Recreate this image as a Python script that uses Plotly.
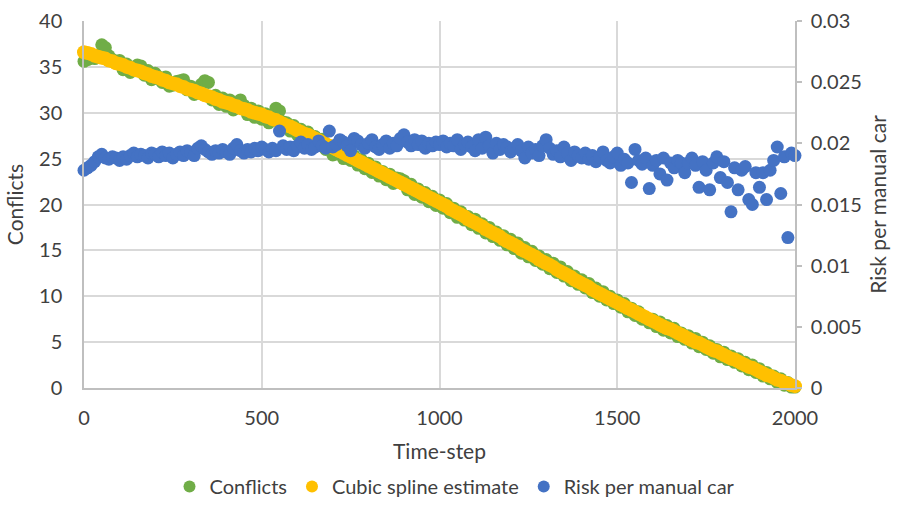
import plotly.graph_objects as go

time_step = list(range(0, 2001, 10))

conflicts = [
    35.6, 35.8, 36.0, 35.9, 36.3, 37.4, 37.1, 36.2, 35.8, 35.6,
    35.7, 34.7, 35.3, 34.4, 34.9, 35.2, 35.1, 34.1, 34.6, 33.6,
    34.3, 33.9, 33.3, 33.9, 32.9, 33.0, 33.4, 33.5, 33.6, 32.5,
    32.9, 32.0, 32.6, 33.1, 33.5, 33.3, 31.4, 31.9, 30.9, 31.6,
    30.7, 31.4, 30.3, 31.0, 31.4, 30.8, 29.8, 30.5, 29.5, 30.2,
    29.3, 29.9, 28.9, 29.7, 30.5, 30.2, 29.0, 28.9, 28.0, 28.6,
    27.6, 28.2, 27.5, 27.9, 26.9, 27.4, 26.5, 27.1, 26.0, 26.4,
    25.4, 25.5, 25.7, 25.0, 25.7, 24.8, 25.3, 24.3, 24.9, 23.9,
    24.5, 23.5, 24.1, 23.1, 23.6, 22.7, 23.3, 22.3, 22.9, 22.8,
    22.6, 21.6, 22.2, 21.1, 21.7, 20.8, 21.3, 20.3, 20.9, 19.9,
    20.5, 19.6, 20.1, 19.1, 19.6, 18.6, 19.2, 18.3, 18.7, 17.8,
    18.4, 17.4, 17.9, 16.9, 17.5, 16.5, 17.0, 16.1, 16.6, 15.6,
    16.2, 15.2, 15.8, 14.7, 15.3, 14.3, 14.9, 13.9, 14.4, 13.5,
    14.0, 13.0, 13.6, 12.6, 13.2, 12.2, 12.7, 11.7, 12.2, 11.3,
    11.8, 10.9, 11.4, 10.4, 10.9, 10.0, 10.5, 9.6, 10.0, 9.2,
    9.6, 8.8, 9.2, 8.3, 8.7, 7.9, 8.3, 7.5, 7.6, 7.1,
    7.5, 6.7, 7.2, 6.3, 6.8, 6.0, 6.5, 5.6, 6.0, 5.3,
    5.7, 4.9, 5.4, 4.5, 5.0, 4.2, 4.6, 3.8, 4.2, 3.4,
    3.9, 3.1, 3.5, 2.8, 3.2, 2.4, 2.8, 2.0, 2.5, 1.7,
    2.1, 1.3, 1.7, 1.0, 1.3, 0.6, 1.0, 0.3, 0.6, 0.1,
    0.1,
]

spline_estimate = [
    36.6, 36.5, 36.4, 36.2, 36.1, 36.0, 35.9, 35.7, 35.6, 35.4,
    35.3, 35.2, 35.0, 34.9, 34.7, 34.6, 34.5, 34.3, 34.2, 34.0,
    33.9, 33.8, 33.6, 33.5, 33.3, 33.2, 33.1, 32.9, 32.8, 32.6,
    32.5, 32.4, 32.2, 32.1, 31.9, 31.8, 31.7, 31.5, 31.4, 31.2,
    31.1, 31.0, 30.8, 30.7, 30.5, 30.4, 30.3, 30.1, 30.0, 29.9,
    29.8, 29.6, 29.5, 29.3, 29.2, 29.0, 28.8, 28.6, 28.5, 28.3,
    28.1, 27.9, 27.7, 27.6, 27.4, 27.2, 27.0, 26.8, 26.6, 26.4,
    26.2, 26.0, 25.8, 25.6, 25.4, 25.2, 25.0, 24.8, 24.6, 24.4,
    24.2, 24.0, 23.8, 23.6, 23.4, 23.2, 23.0, 22.8, 22.6, 22.4,
    22.2, 22.0, 21.8, 21.6, 21.4, 21.2, 21.0, 20.8, 20.6, 20.4,
    20.2, 20.0, 19.8, 19.5, 19.3, 19.1, 18.9, 18.7, 18.4, 18.2,
    18.0, 17.8, 17.6, 17.3, 17.1, 16.9, 16.7, 16.5, 16.2, 16.0,
    15.8, 15.6, 15.4, 15.1, 14.9, 14.7, 14.5, 14.3, 14.0, 13.8,
    13.6, 13.4, 13.2, 12.9, 12.7, 12.5, 12.3, 12.1, 11.8, 11.6,
    11.4, 11.2, 11.0, 10.7, 10.5, 10.3, 10.1, 9.9, 9.7, 9.5,
    9.3, 9.1, 8.9, 8.7, 8.5, 8.3, 8.1, 7.9, 7.7, 7.5,
    7.3, 7.1, 6.9, 6.7, 6.5, 6.4, 6.2, 6.0, 5.8, 5.6,
    5.4, 5.2, 5.0, 4.9, 4.7, 4.5, 4.3, 4.1, 4.0, 3.8,
    3.6, 3.4, 3.2, 3.1, 2.9, 2.7, 2.5, 2.3, 2.2, 2.0,
    1.8, 1.6, 1.4, 1.3, 1.1, 0.9, 0.8, 0.6, 0.5, 0.3,
    0.2,
]

risk_per_manual_car = [
    0.0178, 0.0180, 0.0182, 0.0185, 0.0189, 0.0191, 0.0188, 0.0187, 0.0189, 0.0188,
    0.0186, 0.0189, 0.0187, 0.0190, 0.0192, 0.0189, 0.0191, 0.0190, 0.0188, 0.0192,
    0.0191, 0.0189, 0.0193, 0.0190, 0.0192, 0.0188, 0.0191, 0.0193, 0.0190, 0.0194,
    0.0192, 0.0190, 0.0196, 0.0198, 0.0195, 0.0193, 0.0191, 0.0194, 0.0192, 0.0195,
    0.0193, 0.0191, 0.0196, 0.0199, 0.0194, 0.0192, 0.0195, 0.0193, 0.0196, 0.0194,
    0.0197, 0.0195, 0.0193, 0.0196, 0.0194, 0.0210, 0.0198, 0.0195, 0.0197, 0.0194,
    0.0198, 0.0201, 0.0196, 0.0199, 0.0195, 0.0197, 0.0202, 0.0198, 0.0196, 0.0210,
    0.0197, 0.0199, 0.0203, 0.0201, 0.0198, 0.0194, 0.0204, 0.0202, 0.0199, 0.0196,
    0.0200, 0.0203, 0.0197, 0.0195, 0.0199, 0.0202, 0.0196, 0.0200, 0.0198, 0.0204,
    0.0207, 0.0201, 0.0198, 0.0203, 0.0199, 0.0202, 0.0196, 0.0200, 0.0198, 0.0201,
    0.0199, 0.0202, 0.0197, 0.0200, 0.0198, 0.0203, 0.0195, 0.0199, 0.0201, 0.0197,
    0.0194, 0.0203, 0.0196, 0.0205, 0.0198, 0.0192, 0.0200, 0.0195, 0.0199, 0.0197,
    0.0193, 0.0196, 0.0199, 0.0194, 0.0188, 0.0197, 0.0192, 0.0195, 0.0190, 0.0198,
    0.0203, 0.0196, 0.0191, 0.0194, 0.0189, 0.0197, 0.0192, 0.0186, 0.0193, 0.0190,
    0.0188, 0.0192, 0.0187, 0.0190, 0.0185, 0.0189, 0.0193, 0.0186, 0.0184, 0.0189,
    0.0192, 0.0182, 0.0187, 0.0184, 0.0168, 0.0195, 0.0186, 0.0183, 0.0188, 0.0163,
    0.0182, 0.0186, 0.0175, 0.0188, 0.0170, 0.0184, 0.0180, 0.0186, 0.0184, 0.0176,
    0.0184, 0.0188, 0.0182, 0.0164, 0.0185, 0.0178, 0.0162, 0.0184, 0.0189, 0.0172,
    0.0185, 0.0168, 0.0144, 0.0180, 0.0162, 0.0178, 0.0181, 0.0154, 0.0150, 0.0176,
    0.0164, 0.0176, 0.0154, 0.0178, 0.0186, 0.0197, 0.0159, 0.0189, 0.0123, 0.0192,
    0.0190,
]

x_ticks = [0, 500, 1000, 1500, 2000]
y_ticks = [0, 5, 10, 15, 20, 25, 30, 35, 40]
y2_ticks = [0, 0.005, 0.01, 0.015, 0.02, 0.025, 0.03]
y2_tick_labels = ["0", "0.005", "0.01", "0.015", "0.02", "0.025", "0.03"]

FONT = "Lato"
TXT = "#404040"
GRID = "#d9d9d9"

fig = go.Figure()
fig.add_trace(go.Scatter(
    x=time_step, y=conflicts, name="Conflicts", mode="markers",
    marker=dict(color="#70ad47", size=13, line=dict(width=0)),
    cliponaxis=False,
))
fig.add_trace(go.Scatter(
    x=time_step, y=spline_estimate, name="Cubic spline estimate", mode="markers",
    marker=dict(color="#ffc000", size=14, line=dict(width=0)),
    cliponaxis=False,
))
fig.add_trace(go.Scatter(
    x=time_step, y=risk_per_manual_car, name="Risk per manual car", mode="markers",
    yaxis="y2",
    marker=dict(color="#4472c4", size=13, line=dict(width=0)),
    cliponaxis=False,
))

fig.update_layout(
    width=901, height=506,
    margin=dict(l=84, r=106, t=21, b=118),
    paper_bgcolor="white", plot_bgcolor="white",
    font=dict(family=FONT, size=20, color=TXT),
    showlegend=True,
    legend=dict(
        orientation="h", xref="container", x=0.505, xanchor="center",
        yref="container", y=0.0, yanchor="bottom",
        font=dict(family=FONT, size=20, color=TXT), itemsizing="constant",
        itemwidth=30, tracegroupgap=0,
    ),
    xaxis=dict(
        range=[0, 2000], tickvals=x_ticks, showgrid=True, gridcolor=GRID, gridwidth=1.5,
        showline=True, linecolor="#bfbfbf", linewidth=1.5, zeroline=False,
        ticks="", ticklabelstandoff=11, automargin=False,
        title=dict(text="Time-step", font=dict(size=21, color=TXT), standoff=17),
    ),
    yaxis=dict(
        range=[0, 40], tickvals=y_ticks, showgrid=True, gridcolor=GRID, gridwidth=1.5,
        showline=True, linecolor="#bfbfbf", linewidth=1.5, zeroline=False,
        ticks="", ticklabelstandoff=16, automargin=False,
        title=dict(text="Conflicts", font=dict(size=21, color=TXT), standoff=10),
    ),
    yaxis2=dict(
        range=[0, 0.03], tickvals=y2_ticks, ticktext=y2_tick_labels,
        overlaying="y", side="right", showgrid=False, zeroline=False,
        showline=True, linecolor="#bfbfbf", linewidth=1.5,
        ticks="outside", ticklen=5, tickcolor="#bfbfbf", tickwidth=1.5,
        ticklabelstandoff=5, automargin=False,
        title=dict(text="Risk per manual car", font=dict(size=21, color=TXT), standoff=10),
    ),
)

fig.write_html(
    "out.html",
    config={"displayModeBar": False},
    post_script="document.body.style.margin='0';document.body.style.overflow='hidden';",
)
